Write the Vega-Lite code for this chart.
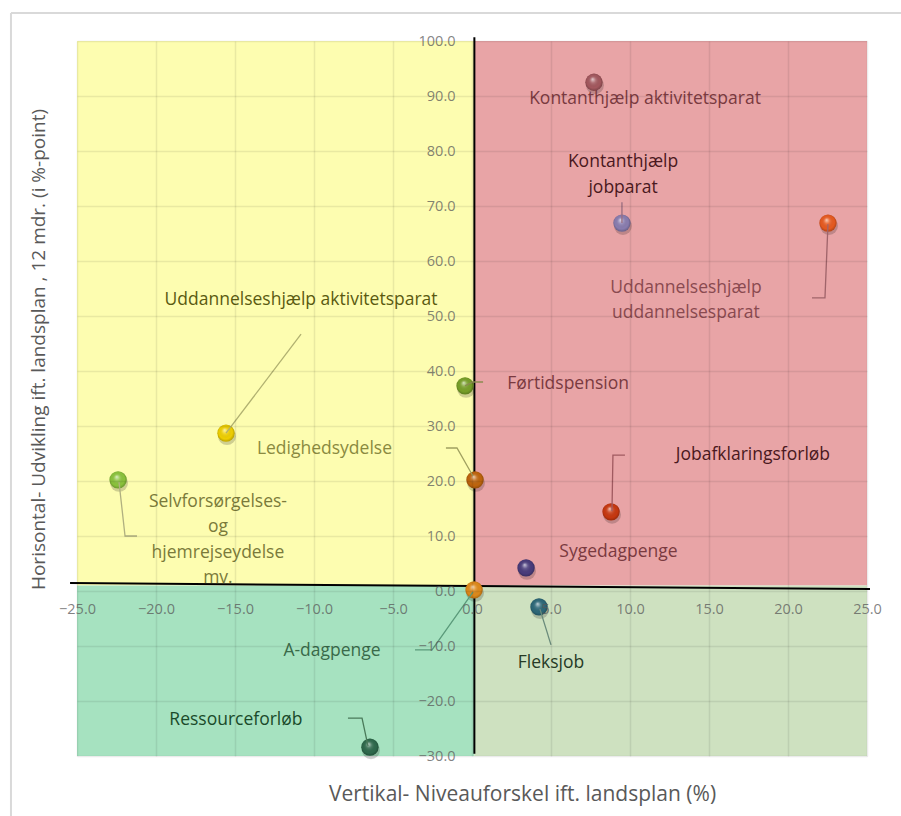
{
  "$schema": "https://vega.github.io/schema/vega-lite/v6.json",
  "autosize": {"type": "none"},
  "width": 790,
  "height": 715,
  "padding": {"left": 77, "top": 41, "right": 34, "bottom": 60},
  "background": "white",
  "config": {
    "view": {"stroke": null},
    "font": "Open Sans",
    "axis": {"labelFont": "Open Sans", "titleFont": "Open Sans"}
  },
  "datasets": {
    "quads": [
      {"q": "TL", "x": -25, "x2": 0.15, "y": 1, "y2": 100},
      {"q": "TR", "x": 0.15, "x2": 25, "y": 1, "y2": 100},
      {"q": "BL", "x": -25, "x2": 0.15, "y": -30, "y2": 1},
      {"q": "BR", "x": 0.15, "x2": 25, "y": -30, "y2": 1}
    ],
    "pts": [
      {"name": "Kontanthjælp aktivitetsparat", "x": 7.72, "y": 92.5, "lx": 10.95, "ly": 89.5, "label": "Kontanthjælp aktivitetsparat"},
      {"name": "Kontanthjælp jobparat", "x": 9.49, "y": 66.9, "lx": 9.56, "ly": 78.0, "label": "Kontanthjælp\njobparat"},
      {"name": "Uddannelseshjælp uddannelsesparat", "x": 22.53, "y": 66.9, "lx": 13.54, "ly": 55.1, "label": "Uddannelseshjælp\nuddannelsesparat"},
      {"name": "Førtidspension", "x": -0.44, "y": 37.3, "lx": 6.08, "ly": 37.6, "label": "Førtidspension"},
      {"name": "Uddannelseshjælp aktivitetsparat", "x": -15.57, "y": 28.7, "lx": -10.82, "ly": 52.9, "label": "Uddannelseshjælp aktivitetsparat"},
      {"name": "Ledighedsydelse", "x": 0.19, "y": 20.2, "lx": -9.34, "ly": 25.8, "label": "Ledighedsydelse"},
      {"name": "Selvforsørgelses- og hjemrejseydelse mv.", "x": -22.4, "y": 20.2, "lx": -16.08, "ly": 16.2, "label": "Selvforsørgelses-\nog\nhjemrejseydelse\nmv."},
      {"name": "Jobafklaringsforløb", "x": 8.8, "y": 14.4, "lx": 17.78, "ly": 24.7, "label": "Jobafklaringsforløb"},
      {"name": "Sygedagpenge", "x": 3.42, "y": 4.2, "lx": 9.27, "ly": 7.1, "label": "Sygedagpenge"},
      {"name": "A-dagpenge", "x": 0.13, "y": 0.2, "lx": -8.86, "ly": -10.9, "label": "A-dagpenge"},
      {"name": "Fleksjob", "x": 4.24, "y": -2.9, "lx": 5.0, "ly": -13.1, "label": "Fleksjob"},
      {"name": "Ressourceforløb", "x": -6.46, "y": -28.4, "lx": -14.94, "ly": -23.45, "label": "Ressourceforløb"}
    ],
    "leaders": [
      {"name": "Kontanthjælp jobparat", "seq": 1, "x": 9.49, "y": 70.7},
      {"name": "Kontanthjælp jobparat", "seq": 2, "x": 9.49, "y": 66.9},
      {"name": "Uddannelseshjælp uddannelsesparat", "seq": 1, "x": 22.53, "y": 66.7},
      {"name": "Uddannelseshjælp uddannelsesparat", "seq": 2, "x": 22.34, "y": 53.3},
      {"name": "Uddannelseshjælp uddannelsesparat", "seq": 3, "x": 21.52, "y": 53.3},
      {"name": "Førtidspension", "seq": 1, "x": -0.44, "y": 37.3},
      {"name": "Førtidspension", "seq": 2, "x": 0.06, "y": 38.0},
      {"name": "Førtidspension", "seq": 3, "x": 0.7, "y": 38.0},
      {"name": "Uddannelseshjælp aktivitetsparat", "seq": 1, "x": -15.57, "y": 28.7},
      {"name": "Uddannelseshjælp aktivitetsparat", "seq": 2, "x": -10.82, "y": 46.7},
      {"name": "Ledighedsydelse", "seq": 1, "x": -1.65, "y": 26.0},
      {"name": "Ledighedsydelse", "seq": 2, "x": -0.95, "y": 26.0},
      {"name": "Ledighedsydelse", "seq": 3, "x": 0.06, "y": 20.9},
      {"name": "Selvforsørgelses- og hjemrejseydelse mv.", "seq": 1, "x": -22.34, "y": 19.8},
      {"name": "Selvforsørgelses- og hjemrejseydelse mv.", "seq": 2, "x": -21.96, "y": 10.0},
      {"name": "Selvforsørgelses- og hjemrejseydelse mv.", "seq": 3, "x": -21.2, "y": 10.0},
      {"name": "Jobafklaringsforløb", "seq": 1, "x": 8.86, "y": 14.5},
      {"name": "Jobafklaringsforløb", "seq": 2, "x": 8.92, "y": 24.7},
      {"name": "Jobafklaringsforløb", "seq": 3, "x": 9.68, "y": 24.7},
      {"name": "A-dagpenge", "seq": 1, "x": 0.06, "y": -0.2},
      {"name": "A-dagpenge", "seq": 2, "x": -2.53, "y": -10.7},
      {"name": "A-dagpenge", "seq": 3, "x": -3.61, "y": -10.7},
      {"name": "Fleksjob", "seq": 1, "x": 4.3, "y": -3.3},
      {"name": "Fleksjob", "seq": 2, "x": 5.0, "y": -9.8},
      {"name": "Ressourceforløb", "seq": 1, "x": -6.58, "y": -28.2},
      {"name": "Ressourceforløb", "seq": 2, "x": -6.96, "y": -23.1},
      {"name": "Ressourceforløb", "seq": 3, "x": -7.85, "y": -23.1}
    ],
    "lines": [
      {"id": "h", "x": -25.44, "y": 1.45, "x2": 25.19, "y2": 0.36},
      {"id": "v", "x": 0.15, "y": 100.7, "x2": 0.15, "y2": -29.6}
    ],
    "frame": [
      {"id": "top", "x": -29.18, "y": 105.1, "x2": 27.2, "y2": 105.1},
      {"id": "left", "x": -29.18, "y": 105.1, "x2": -29.18, "y2": -41}
    ]
  },
  "resolve": {"scale": {"color": "independent"}},
  "layer": [
    {
      "data": {"name": "quads"},
      "mark": {"type": "rect"},
      "encoding": {
        "x": {"field": "x", "type": "quantitative", "scale": {"domain": [-25, 25], "nice": false, "zero": false},
          "axis": {"values": [-25, -20, -15, -10, -5, 0, 5, 10, 15, 20, 25], "format": ".1f", "offset": -165, "zindex": 1,
            "grid": true, "gridColor": "#000000", "gridOpacity": 0.08, "gridWidth": 1.5,
            "domain": false, "ticks": false, "tickSize": 0, "labelPadding": 11, "labelFontSize": 14.5, "labelColor": "#595959", "labelOpacity": 0.75,
            "labelOverlap": false, "labelFlush": false, "labelBound": false,
            "title": "Vertikal- Niveauforskel ift. landsplan (%)", "titleFontSize": 21, "titleFontWeight": "normal", "titleColor": "#595959",
            "titleX": 445, "titleY": 209, "titleAlign": "center", "titleBaseline": "alphabetic"}},
        "x2": {"field": "x2"},
        "y": {"field": "y", "type": "quantitative", "scale": {"domain": [-30, 100], "nice": false, "zero": false},
          "axis": {"values": [-30, -20, -10, 0, 10, 20, 30, 40, 50, 60, 70, 80, 90, 100], "format": ".1f", "offset": -395, "zindex": 1,
            "grid": true, "gridColor": "#000000", "gridOpacity": 0.08, "gridWidth": 1.5,
            "domain": false, "ticks": false, "tickSize": 0, "labelPadding": 17, "labelFontSize": 14.5, "labelColor": "#595959", "labelOpacity": 0.75,
            "labelOverlap": false, "labelFlush": false, "labelBound": false, "labelBaseline": "middle",
            "title": "Horisontal- Udvikling ift. landsplan , 12 mdr. (i %-point)", "titleFontSize": 19, "titleFontWeight": "normal", "titleColor": "#595959",
            "titleX": -434, "titleY": 308, "titleAngle": -90, "titleAlign": "center", "titleBaseline": "middle"}},
        "y2": {"field": "y2"},
        "color": {"field": "q", "type": "nominal", "legend": null,
          "scale": {"domain": ["TL", "TR", "BL", "BR"], "range": ["#FDFDB0", "#E8A4A6", "#A6E2C0", "#CEE1C0"]}}
      }
    },
    {
      "data": {"name": "frame"},
      "mark": {"type": "rule", "color": "#D9D9D9", "strokeWidth": 2},
      "encoding": {
        "x": {"field": "x", "type": "quantitative"},
        "y": {"field": "y", "type": "quantitative"},
        "x2": {"field": "x2"},
        "y2": {"field": "y2"}
      }
    },
    {
      "data": {"name": "lines"},
      "mark": {"type": "rule", "color": "#000000", "strokeWidth": 2},
      "encoding": {
        "x": {"field": "x", "type": "quantitative"},
        "y": {"field": "y", "type": "quantitative"},
        "x2": {"field": "x2"},
        "y2": {"field": "y2"}
      }
    },
    {
      "data": {"name": "pts"},
      "mark": {"type": "circle", "size": 320, "color": "#000000", "opacity": 0.18, "xOffset": 1, "yOffset": 3},
      "encoding": {
        "x": {"field": "x", "type": "quantitative"},
        "y": {"field": "y", "type": "quantitative"}
      }
    },
    {
      "data": {"name": "pts"},
      "mark": {"type": "circle", "size": 300, "opacity": 1},
      "encoding": {
        "x": {"field": "x", "type": "quantitative"},
        "y": {"field": "y", "type": "quantitative"},
        "color": {"field": "name", "type": "nominal", "legend": null,
          "scale": {"domain": ["Kontanthjælp aktivitetsparat", "Kontanthjælp jobparat", "Uddannelseshjælp uddannelsesparat", "Førtidspension", "Uddannelseshjælp aktivitetsparat", "Ledighedsydelse", "Selvforsørgelses- og hjemrejseydelse mv.", "Jobafklaringsforløb", "Sygedagpenge", "A-dagpenge", "Fleksjob", "Ressourceforløb"],
            "range": ["#A4585E", "#8A7DB0", "#E85A20", "#78A028", "#F0D000", "#C0650C", "#8CC43C", "#C83810", "#4A3C7C", "#E08A1A", "#2C6878", "#2E6A4C"]}}
      }
    },
    {
      "data": {"name": "pts"},
      "mark": {"type": "point", "shape": "circle", "size": 300, "filled": true, "opacity": 1,
        "fill": {"gradient": "radial", "x1": 0.42, "y1": 0.32, "r1": 0, "x2": 0.5, "y2": 0.5, "r2": 0.55,
          "stops": [
            {"offset": 0, "color": "rgba(255,255,255,0.7)"},
            {"offset": 0.3, "color": "rgba(255,255,255,0.15)"},
            {"offset": 0.7, "color": "rgba(0,0,0,0)"},
            {"offset": 1, "color": "rgba(0,0,0,0.3)"}
          ]}},
      "encoding": {
        "x": {"field": "x", "type": "quantitative"},
        "y": {"field": "y", "type": "quantitative"}
      }
    },
    {
      "data": {"name": "leaders"},
      "mark": {"type": "line", "strokeWidth": 1.3},
      "encoding": {
        "x": {"field": "x", "type": "quantitative"},
        "y": {"field": "y", "type": "quantitative"},
        "detail": {"field": "name", "type": "nominal"},
        "order": {"field": "seq", "type": "quantitative"},
        "color": {"field": "name", "type": "nominal", "legend": null,
          "scale": {"domain": ["Kontanthjælp jobparat", "Uddannelseshjælp uddannelsesparat", "Førtidspension", "Uddannelseshjælp aktivitetsparat", "Ledighedsydelse", "Selvforsørgelses- og hjemrejseydelse mv.", "Jobafklaringsforløb", "A-dagpenge", "Fleksjob", "Ressourceforløb"],
            "range": ["#9A6E80", "#A0646A", "#8A8A50", "#B0B070", "#A0A060", "#B0B080", "#A05A60", "#5A9A7A", "#6A8A7A", "#4A7A5A"]}}
      }
    },
    {
      "data": {"name": "pts"},
      "mark": {"type": "text", "fontSize": 17.5, "font": "Open Sans", "align": "center", "baseline": "middle", "lineBreak": "\n", "lineHeight": 25.5},
      "encoding": {
        "x": {"field": "lx", "type": "quantitative"},
        "y": {"field": "ly", "type": "quantitative"},
        "text": {"field": "label"},
        "color": {"field": "name", "type": "nominal", "legend": null,
          "scale": {"domain": ["Kontanthjælp aktivitetsparat", "Kontanthjælp jobparat", "Uddannelseshjælp uddannelsesparat", "Førtidspension", "Uddannelseshjælp aktivitetsparat", "Ledighedsydelse", "Selvforsørgelses- og hjemrejseydelse mv.", "Jobafklaringsforløb", "Sygedagpenge", "A-dagpenge", "Fleksjob", "Ressourceforløb"],
            "range": ["#7A3A40", "#4A1820", "#8A4A50", "#7A3A40", "#5A5A10", "#8A8A40", "#7A7A3A", "#4A1820", "#7A3A40", "#3A6A4A", "#263A26", "#1A4A2A"]}}
      }
    }
  ]
}
